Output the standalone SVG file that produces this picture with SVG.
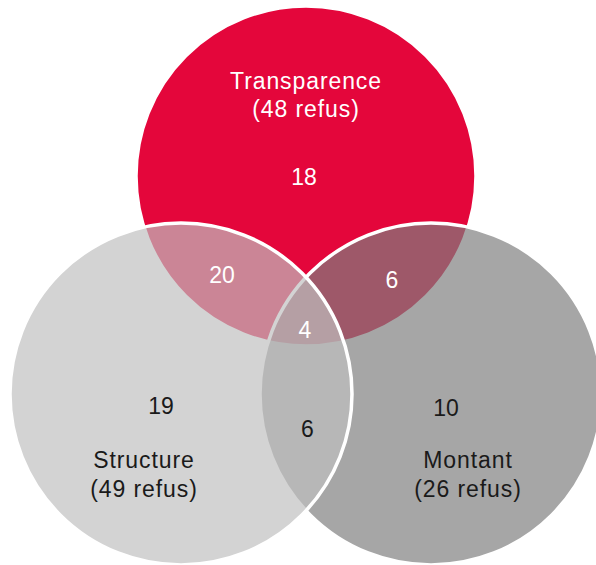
<svg xmlns="http://www.w3.org/2000/svg" width="596" height="565" viewBox="0 0 596 565">
<style>
.c{stroke:#ffffff;stroke-width:3.5}
.red{fill:#e4063b}
.left{fill:#bfbfbf;fill-opacity:0.69}
.right{fill:#7e7e7e;fill-opacity:0.69}
text{font-family:"Liberation Sans",Arial,sans-serif;text-anchor:middle}
.lbl{font-size:23px;letter-spacing:0.9px}
.num{font-size:23px}
.w{fill:#ffffff}
.k{fill:#1a1a1a}
</style>
<rect width="596" height="565" fill="#ffffff"/>
<g id="transparence">
<circle class="c red" cx="306" cy="176" r="170"/>
</g>
<g id="montant">
<circle class="c right" cx="431" cy="394" r="171"/>
</g>
<g id="structure">
<circle class="c left" cx="181" cy="394" r="171"/>
</g>
<g id="connectors"></g>
<g id="labels">
<text class="lbl w" x="306" y="89">Transparence</text>
<text class="lbl w" x="306" y="117">(48 refus)</text>
<text class="num w" x="304" y="185">18</text>
<text class="num w" x="222" y="283">20</text>
<text class="num w" x="392" y="288">6</text>
<text class="num w" x="305" y="338">4</text>
<text class="num k" x="307.5" y="437">6</text>
<text class="num k" x="161" y="414">19</text>
<text class="num k" x="446" y="416">10</text>
<text class="lbl k" x="144" y="468">Structure</text>
<text class="lbl k" x="144" y="497">(49 refus)</text>
<text class="lbl k" x="468" y="468">Montant</text>
<text class="lbl k" x="468" y="497">(26 refus)</text>
</g>
</svg>
